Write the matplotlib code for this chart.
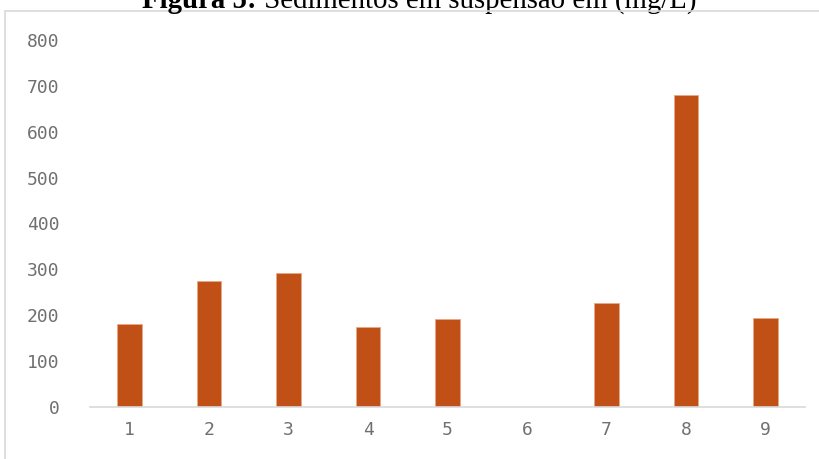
import matplotlib
matplotlib.use('Agg')
import matplotlib.pyplot as plt
from matplotlib.patches import Rectangle

pontos = ['1', '2', '3', '4', '5', '6', '7', '8', '9']
sedimentos = [182, 275, 293, 175, 191, 0, 227, 681, 193]
y_ticks = [0, 100, 200, 300, 400, 500, 600, 700, 800]

fig = plt.figure(figsize=(8.2, 4.59), dpi=100)
ax = fig.add_axes([90 / 820, 1 - 407 / 459, 715 / 820, 367 / 459])

x = range(1, len(pontos) + 1)
ax.bar(x, sedimentos, width=0.31, color='#C05016', edgecolor='#E8A888', linewidth=0.6)

ax.set_xlim(0.5, 9.5)
ax.set_ylim(0, 800)
ax.set_xticks(list(x))
ax.set_xticklabels(pontos)
ax.set_yticks(y_ticks)
for s in ['top', 'right', 'left']:
    ax.spines[s].set_visible(False)
ax.spines['bottom'].set_color('#D9D9D9')
ax.spines['bottom'].set_linewidth(1.2)
ax.tick_params(axis='both', length=0, labelsize=13, labelcolor='#707070')
ax.tick_params(axis='y', pad=22)
ax.tick_params(axis='x', pad=10)
for lab in ax.get_xticklabels() + ax.get_yticklabels():
    lab.set_family('DejaVu Sans Mono')

# moldura do grafico
fig.patches.append(Rectangle((5 / 820, -0.1), 1.0, 1 - 11 / 459 + 0.1,
                             transform=fig.transFigure, fill=False,
                             edgecolor='#D9D9D9', linewidth=1.2))

# titulo (cortado no topo, como no original)
t1 = fig.text(142 / 820, 1 - 8.5 / 459, 'Figura 5:', family='Liberation Serif',
              fontweight='bold', fontsize=20.8, va='baseline', ha='left')
plt.annotate(' Sedimentos em suspensão em (mg/L)', xy=(1, 0), xycoords=t1,
             family='Liberation Serif', fontsize=20.8, va='bottom', ha='left',
             annotation_clip=False)

fig.savefig('out.png', dpi=100)
